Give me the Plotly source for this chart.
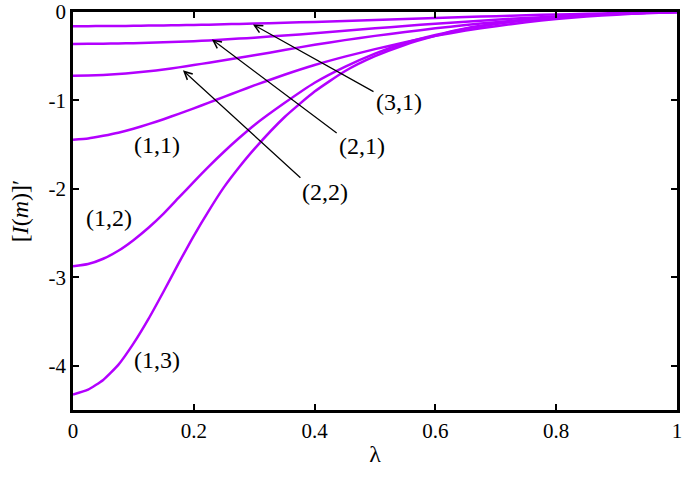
import plotly.graph_objects as go

lam = [0.0, 0.025, 0.05, 0.075, 0.1, 0.125, 0.15, 0.175, 0.2, 0.225, 0.25, 0.275, 0.3, 0.35,
       0.4, 0.45, 0.5, 0.55, 0.6, 0.65, 0.7, 0.75, 0.8, 0.85, 0.9, 0.95, 1.0]

# values, one list per (m, n) state
s31 = [-0.160, -0.160, -0.159, -0.158, -0.156, -0.154, -0.152, -0.149, -0.146, -0.143, -0.139,
       -0.135, -0.131, -0.122, -0.112, -0.101, -0.090, -0.079, -0.068, -0.057, -0.047, -0.037,
       -0.028, -0.020, -0.012, -0.006, 0.0]
s21 = [-0.361, -0.360, -0.358, -0.355, -0.352, -0.348, -0.343, -0.337, -0.330, -0.322, -0.312,
       -0.301, -0.290, -0.266, -0.240, -0.212, -0.185, -0.158, -0.133, -0.109, -0.087, -0.067,
       -0.050, -0.034, -0.020, -0.009, 0.0]
s22 = [-0.722, -0.719, -0.712, -0.702, -0.688, -0.670, -0.650, -0.626, -0.600, -0.573, -0.545,
       -0.518, -0.490, -0.430, -0.370, -0.318, -0.270, -0.226, -0.185, -0.148, -0.115, -0.086,
       -0.060, -0.039, -0.022, -0.009, 0.0]
s11 = [-1.443, -1.430, -1.400, -1.365, -1.320, -1.268, -1.212, -1.152, -1.090, -1.025, -0.960,
       -0.895, -0.830, -0.710, -0.600, -0.505, -0.420, -0.342, -0.270, -0.210, -0.160, -0.116,
       -0.080, -0.052, -0.030, -0.013, 0.0]
s12 = [-2.876, -2.850, -2.790, -2.700, -2.580, -2.440, -2.280, -2.100, -1.920, -1.745, -1.580,
       -1.425, -1.280, -1.030, -0.800, -0.620, -0.470, -0.350, -0.260, -0.185, -0.130, -0.090,
       -0.060, -0.037, -0.020, -0.008, 0.0]
s13 = [-4.325, -4.270, -4.160, -3.990, -3.750, -3.470, -3.160, -2.840, -2.530, -2.245, -1.980,
       -1.755, -1.550, -1.190, -0.900, -0.670, -0.500, -0.370, -0.270, -0.190, -0.135, -0.092,
       -0.060, -0.037, -0.020, -0.008, 0.0]

series = [s31, s21, s22, s11, s12, s13]

x_ticks = [0, 0.2, 0.4, 0.6, 0.8, 1]
x_ticktext = ["0", "0.2", "0.4", "0.6", "0.8", "1"]
y_ticks = [0, -1, -2, -3, -4]
y_ticktext = ["0", "-1", "-2", "-3", "-4"]

# plain labels: (text, x, y)
labels = [("(1,1)", 0.139, -1.50), ("(1,2)", 0.060, -2.33), ("(1,3)", 0.139, -3.93)]
# arrow labels: (text, label x, label y, tail x, tail y, tip x, tip y)
arrow_labels = [
    ("(3,1)", 0.540, -1.02, 0.500, -0.91, 0.298, -0.141),
    ("(2,1)", 0.478, -1.52, 0.439, -1.38, 0.230, -0.31),
    ("(2,2)", 0.418, -2.03, 0.379, -1.89, 0.182, -0.66),
]

purple = "#b300ff"
serif = "Liberation Serif"
tick_font = dict(family=serif, size=21, color="black")
label_font = dict(family=serif, size=24, color="black")

fig = go.Figure()
for s in series:
    fig.add_trace(
        go.Scatter(
            x=lam,
            y=s,
            mode="lines",
            line=dict(color=purple, width=2.5, shape="spline", smoothing=0.5),
            showlegend=False,
        )
    )

for text, x, y in labels:
    fig.add_annotation(x=x, y=y, text=text, showarrow=False, font=label_font)

for text, lx, ly, tx, ty, hx, hy in arrow_labels:
    fig.add_annotation(
        x=hx, y=hy, ax=tx, ay=ty, axref="x", ayref="y",
        text="", showarrow=True, arrowhead=5, arrowsize=1.3,
        arrowwidth=1.2, arrowcolor="black",
    )
    fig.add_annotation(x=lx, y=ly, text=text, showarrow=False, font=label_font)

axis_style = dict(
    showline=True, linecolor="black", linewidth=2.5, mirror="ticks",
    ticks="inside", ticklen=6, tickwidth=1.5, tickcolor="black",
    showgrid=False, zeroline=False, tickfont=tick_font, automargin=False,
    ticklabeloverflow="allow",
)

fig.update_xaxes(
    range=[0, 1], tickvals=x_ticks, ticktext=x_ticktext,
    title=dict(text="λ", font=label_font, standoff=4), **axis_style,
)
fig.update_yaxes(
    range=[-4.5, 0], tickvals=y_ticks, ticktext=y_ticktext,
    title=dict(text="[<i>I</i>(<i>m</i>)]′", font=label_font, standoff=14), **axis_style,
)

fig.update_layout(
    width=685, height=482,
    margin=dict(l=73, r=8, t=12, b=72),
    plot_bgcolor="white", paper_bgcolor="white",
    font=tick_font,
)

# drop the page's default body margin so the figure fills the window exactly
fig.write_html(
    "out.html",
    config={"displayModeBar": False},
    post_script="document.body.style.margin = '0'; document.body.style.overflow = 'hidden';",
)
